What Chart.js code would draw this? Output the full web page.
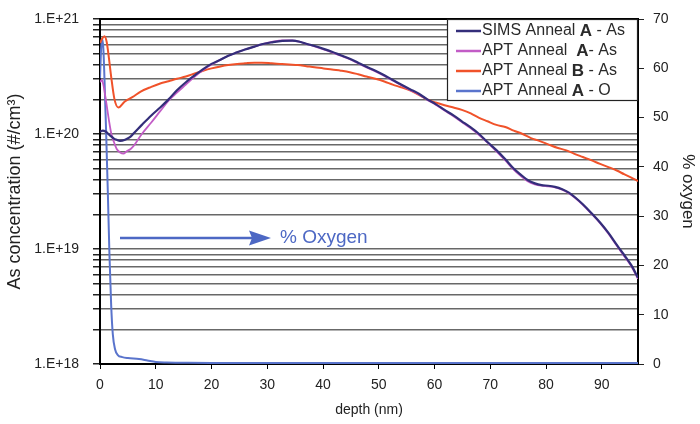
<!DOCTYPE html>
<html>
<head>
<meta charset="utf-8">
<title>As depth profile</title>
<script src="https://cdn.jsdelivr.net/npm/chart.js@4/dist/chart.umd.min.js"></script>
<style>
  html, body { margin: 0; padding: 0; background: #fff; }
  #wrap { width: 700px; height: 424px; }
</style>
</head>
<body>
<div id="wrap"><canvas id="chart" width="700" height="424"></canvas></div>
<script>
// depth (nm) and As concentration (#/cm3)
const simsDepth = [0, 0.5, 1, 1.5, 2, 2.5, 3, 3.6, 4.5, 5.3, 6.1, 7.5, 9.2, 10.8, 12.3, 13.8, 15.4, 17, 18.5, 20,
  21.6, 23, 24.6, 26, 27.7, 29, 30.8, 32.7, 34.5, 36, 37.0, 38.5, 40.1, 41.6, 43.2, 44.8, 46.3, 47.8, 49.4, 51,
  52.5, 54, 55.6, 57.2, 58.7, 60.2, 61.8, 63.4, 64.9, 66.5, 68.0, 69.5, 71.1, 72.7, 74.2, 75.5, 76.7, 78, 79.2, 80.4,
  81.6, 82.9, 84.1, 85.3, 86.6, 88, 89.7, 91.2, 92.8, 94, 95.3, 96.5];
const simsAnnealA = [1.05e20, 1.07e20, 1.05e20, 1.00e20, 9.55e19, 9.12e19, 8.91e19, 8.71e19, 8.91e19, 9.33e19,
  1.02e20, 1.20e20, 1.45e20, 1.70e20, 2.00e20, 2.40e20, 2.82e20, 3.24e20, 3.67e20, 4.07e20,
  4.42e20, 4.79e20, 5.13e20, 5.43e20, 5.75e20, 6.03e20, 6.27e20, 6.46e20, 6.49e20, 6.31e20,
  6.10e20, 5.82e20, 5.50e20, 5.19e20, 4.84e20, 4.52e20, 4.17e20, 3.85e20, 3.55e20, 3.24e20,
  2.95e20, 2.69e20, 2.45e20, 2.24e20, 2.00e20, 1.82e20, 1.62e20, 1.45e20, 1.29e20, 1.14e20,
  1.00e20, 8.51e19, 7.24e19, 6.03e19, 5.01e19, 4.42e19, 3.98e19, 3.72e19, 3.59e19, 3.55e19,
  3.47e19, 3.31e19, 3.09e19, 2.79e19, 2.45e19, 2.09e19, 1.70e19, 1.38e19, 1.07e19, 8.91e18,
  7.24e18, 5.62e18];

const aptADepth = [0, 0.3, 0.6, 1.1, 1.6, 2.0, 2.5, 3.0, 3.6, 4.2, 4.8, 5.5, 6.1, 7.5, 9.2, 10.8, 12.3, 13.8, 15.4, 17, 18.5, 20,
  21.6, 23, 24.6, 26, 27.7, 29, 30.8, 32.7, 34.5, 36, 37.0, 38.5, 40.1, 41.6, 43.2, 44.8, 46.3, 47.8, 49.4, 51,
  52.5, 54, 55.6, 57.2, 58.7, 60.2, 61.8, 63.4, 64.9, 66.5, 68.0, 69.5, 71.1, 72.7, 74.2, 75.5, 76.7, 78, 79.2, 80.4,
  81.6, 82.9, 84.1, 85.3, 86.6, 88, 89.7, 91.2, 92.8, 94, 95.3, 96.5];
const aptAnnealA = [2.82e20, 2.95e20, 2.69e20, 1.91e20, 1.32e20, 1.02e20, 8.51e19, 7.41e19, 6.92e19, 6.76e19,
  7.08e19, 7.41e19, 7.94e19, 1.00e20, 1.26e20, 1.58e20, 1.95e20, 2.29e20, 2.69e20, 3.16e20, 3.60e20, 4.02e20,
  4.42e20, 4.79e20, 5.13e20, 5.43e20, 5.75e20, 6.03e20, 6.31e20, 6.53e20, 6.50e20, 6.31e20,
  6.07e20, 5.78e20, 5.45e20, 5.13e20, 4.79e20, 4.47e20, 4.12e20, 3.80e20, 3.50e20, 3.20e20,
  2.92e20, 2.66e20, 2.42e20, 2.21e20, 1.98e20, 1.80e20, 1.60e20, 1.43e20, 1.27e20, 1.12e20,
  9.80e19, 8.40e19, 7.08e19, 5.89e19, 4.90e19, 4.30e19, 3.88e19, 3.65e19, 3.55e19, 3.50e19,
  3.44e19, 3.28e19, 3.06e19, 2.76e19, 2.42e19, 2.06e19, 1.68e19, 1.36e19, 1.05e19, 8.71e18,
  7.08e18, 5.50e18];

const aptBDepth = [0, 0.4, 0.8, 1.2, 1.6, 2.0, 2.6, 3.3, 4.4, 5.8, 7.3, 9.2, 10.8, 12.3, 13.8, 15.4, 17, 18.5, 20, 21.6,
  23, 24.6, 26, 27.7, 29, 30.8, 32.3, 33.9, 35.5, 37, 38.5, 40.1, 41.6, 43.2, 44.8, 46.3, 47.8, 49.4, 51, 52.5,
  54, 55.6, 57.2, 58.7, 60.2, 61.8, 63.4, 64.9, 66.5, 68, 69.5, 71.1, 72.7, 74.2, 75.8, 77.3, 78.8, 80.4, 82, 83.5,
  85, 86.6, 88.2, 89.7, 91.3, 92.8, 94, 95.3, 96.5];
const aptAnnealB = [6.17e20, 6.76e20, 7.08e20, 6.31e20, 4.57e20, 3.16e20, 2.00e20, 1.70e20, 1.91e20, 2.09e20,
  2.34e20, 2.57e20, 2.75e20, 2.88e20, 3.02e20, 3.16e20, 3.36e20, 3.55e20, 3.72e20, 3.87e20,
  3.98e20, 4.07e20, 4.12e20, 4.17e20, 4.17e20, 4.12e20, 4.07e20, 4.02e20, 3.98e20, 3.89e20,
  3.80e20, 3.72e20, 3.63e20, 3.55e20, 3.45e20, 3.31e20, 3.16e20, 3.02e20, 2.86e20, 2.69e20,
  2.55e20, 2.40e20, 2.19e20, 2.00e20, 1.88e20, 1.78e20, 1.70e20, 1.62e20, 1.51e20, 1.38e20,
  1.29e20, 1.20e20, 1.15e20, 1.07e20, 1.00e20, 9.20e19, 8.71e19, 8.13e19, 7.59e19, 7.24e19,
  6.76e19, 6.31e19, 5.89e19, 5.50e19, 5.13e19, 4.79e19, 4.47e19, 4.17e19, 3.89e19];

// oxygen, % (right axis)
const oxyDepth = [0, 0.2, 0.4, 0.6, 0.8, 1.1, 1.4, 1.7, 2.0, 2.3, 2.7, 3.2, 4.0, 5.0, 7.0, 8.5, 10, 12, 15, 20,
  30, 40, 50, 60, 70, 80, 90, 96.5];
const oxygenA = [58, 64, 66, 64, 58, 47, 35, 22, 12, 6, 3, 1.8, 1.4, 1.2, 1.0, 0.7, 0.4, 0.3, 0.25, 0.2,
  0.2, 0.2, 0.2, 0.2, 0.2, 0.2, 0.2, 0.2];

const seriesNames = ['SIMS Anneal A - As', 'APT Anneal A- As', 'APT Anneal B - As', 'APT Anneal A - O'];
// legend text split into [plain, bold letter, plain]
const legendParts = [
  ['SIMS Anneal ', 'A', ' - As'],
  ['APT Anneal  ', 'A', '- As'],
  ['APT Anneal ', 'B', ' - As'],
  ['APT Anneal ', 'A', ' - O']
];
const concTicks = [1e18, 1e19, 1e20, 1e21];
const xMax = 96.5;

const FONT = "'Liberation Sans', Arial, sans-serif";
const colors = ['#342e7a', '#c25cc6', '#f0522a', '#5a74cc'];

function pairs(xs, ys) {
  return xs.map((x, i) => ({ x: x, y: ys[i] }));
}

// black frame on top edge (other edges are axis borders)
const framePlugin = {
  id: 'frame',
  beforeDatasetsDraw(chart) {
    const { ctx, chartArea: a } = chart;
    ctx.save();
    ctx.strokeStyle = '#000';
    ctx.lineWidth = 2;
    ctx.beginPath();
    ctx.moveTo(a.left - 1, a.top);
    ctx.lineTo(a.right + 1, a.top);
    ctx.stroke();
    ctx.restore();
  }
};

// legend with bold letters + "% Oxygen" arrow
const notesPlugin = {
  id: 'notes',
  afterDatasetsDraw(chart) {
    const { ctx, chartArea: a } = chart;
    ctx.save();

    // arrow
    const ac = '#4d68c4';
    ctx.strokeStyle = ac;
    ctx.fillStyle = ac;
    ctx.lineWidth = 2.5;
    ctx.beginPath();
    ctx.moveTo(120, 238);
    ctx.lineTo(254, 238);
    ctx.stroke();
    ctx.beginPath();
    ctx.moveTo(271, 238);
    ctx.lineTo(249, 230.5);
    ctx.lineTo(252, 238);
    ctx.lineTo(249, 245.5);
    ctx.closePath();
    ctx.fill();
    ctx.font = '19px ' + FONT;
    ctx.textBaseline = 'middle';
    ctx.fillText('% Oxygen', 280, 238);

    // legend box
    const bx = 447, by = a.top, bw = a.right - 447, bh = 82;
    ctx.fillStyle = '#fff';
    ctx.fillRect(bx, by, bw, bh);
    ctx.strokeStyle = '#222';
    ctx.lineWidth = 1.2;
    ctx.strokeRect(bx + 0.5, by + 0.5, bw - 1, bh - 1);

    legendParts.forEach((p, i) => {
      const y = a.top + 12 + i * 20;
      ctx.strokeStyle = colors[i];
      ctx.lineWidth = 2.5;
      ctx.beginPath();
      ctx.moveTo(456, y);
      ctx.lineTo(481, y);
      ctx.stroke();
      ctx.fillStyle = '#2a2a2a';
      ctx.textBaseline = 'middle';
      let x = 482;
      ctx.font = '16px ' + FONT;
      ctx.fillText(p[0], x, y);
      x += ctx.measureText(p[0]).width;
      ctx.font = 'bold 17px ' + FONT;
      ctx.fillText(p[1], x, y);
      x += ctx.measureText(p[1]).width;
      ctx.font = '16px ' + FONT;
      ctx.fillText(p[2], x, y);
    });
    ctx.restore();
  }
};

const ctx = document.getElementById('chart').getContext('2d');

new Chart(ctx, {
  type: 'line',
  data: {
    datasets: [
      { label: seriesNames[0], data: pairs(simsDepth, simsAnnealA), borderColor: colors[0], borderWidth: 2.2, yAxisID: 'y' },
      { label: seriesNames[1], data: pairs(aptADepth, aptAnnealA), borderColor: colors[1], borderWidth: 1.8, yAxisID: 'y' },
      { label: seriesNames[2], data: pairs(aptBDepth, aptAnnealB), borderColor: colors[2], borderWidth: 2, yAxisID: 'y' },
      { label: seriesNames[3], data: pairs(oxyDepth, oxygenA), borderColor: colors[3], borderWidth: 2, yAxisID: 'y2' }
    ]
  },
  options: {
    responsive: false,
    animation: false,
    layout: { padding: { top: 19, left: 0, right: 0, bottom: 0 } },
    elements: {
      point: { radius: 0 },
      line: { cubicInterpolationMode: 'monotone', fill: false }
    },
    plugins: {
      legend: { display: false },
      tooltip: { enabled: false }
    },
    scales: {
      x: {
        type: 'linear',
        min: 0,
        max: xMax,
        afterFit: (s) => { s.height = 60; },
        ticks: {
          stepSize: 10,
          includeBounds: false,
          padding: 8,
          color: '#222',
          font: { family: FONT, size: 14 }
        },
        grid: { drawOnChartArea: false, drawTicks: true, tickLength: 5, tickColor: '#000' },
        border: { display: true, color: '#000', width: 2 },
        title: {
          display: true,
          text: 'depth (nm)',
          color: '#222',
          font: { family: FONT, size: 14 },
          padding: { top: 4, bottom: 5 }
        }
      },
      y: {
        type: 'logarithmic',
        position: 'left',
        min: 1e18,
        max: 1e21,
        afterFit: (s) => { s.width = 100; s.paddingTop = 0; s.paddingBottom = 0; },
        afterBuildTicks: (axis) => {
          const t = [];
          for (let e = 18; e <= 20; e++) {
            for (let m = 1; m <= 9; m++) t.push({ value: m * Math.pow(10, e) });
          }
          t.push({ value: 1e21 });
          axis.ticks = t;
        },
        ticks: {
          autoSkip: false,
          padding: 14,
          color: '#222',
          font: { family: FONT, size: 14 },
          callback: (v) => {
            const e = Math.log10(v);
            const r = Math.round(e);
            if (Math.abs(e - r) < 1e-6 && concTicks.includes(Math.pow(10, r))) return '1.E+' + r;
            return '';
          }
        },
        grid: { color: '#686868', lineWidth: 1.5, drawTicks: true, tickLength: 7, tickColor: '#222' },
        border: { display: true, color: '#000', width: 2 },
        title: {
          display: true,
          text: 'As concentration (#/cm³)',
          color: '#222',
          font: { family: FONT, size: 18 },
          padding: { top: 4, bottom: 4 }
        }
      },
      y2: {
        type: 'linear',
        position: 'right',
        min: 0,
        max: 70,
        afterFit: (s) => { s.width = 62; s.paddingTop = 0; s.paddingBottom = 0; },
        ticks: {
          stepSize: 10,
          padding: 9,
          color: '#222',
          font: { family: FONT, size: 14 }
        },
        grid: { drawOnChartArea: false, drawTicks: true, tickLength: 6, tickColor: '#222' },
        border: { display: true, color: '#000', width: 2 },
        title: {
          display: true,
          text: '% oxygen',
          color: '#222',
          font: { family: FONT, size: 17 },
          padding: { top: 2, bottom: 2 }
        }
      }
    }
  },
  plugins: [framePlugin, notesPlugin]
});
</script>
</body>
</html>
